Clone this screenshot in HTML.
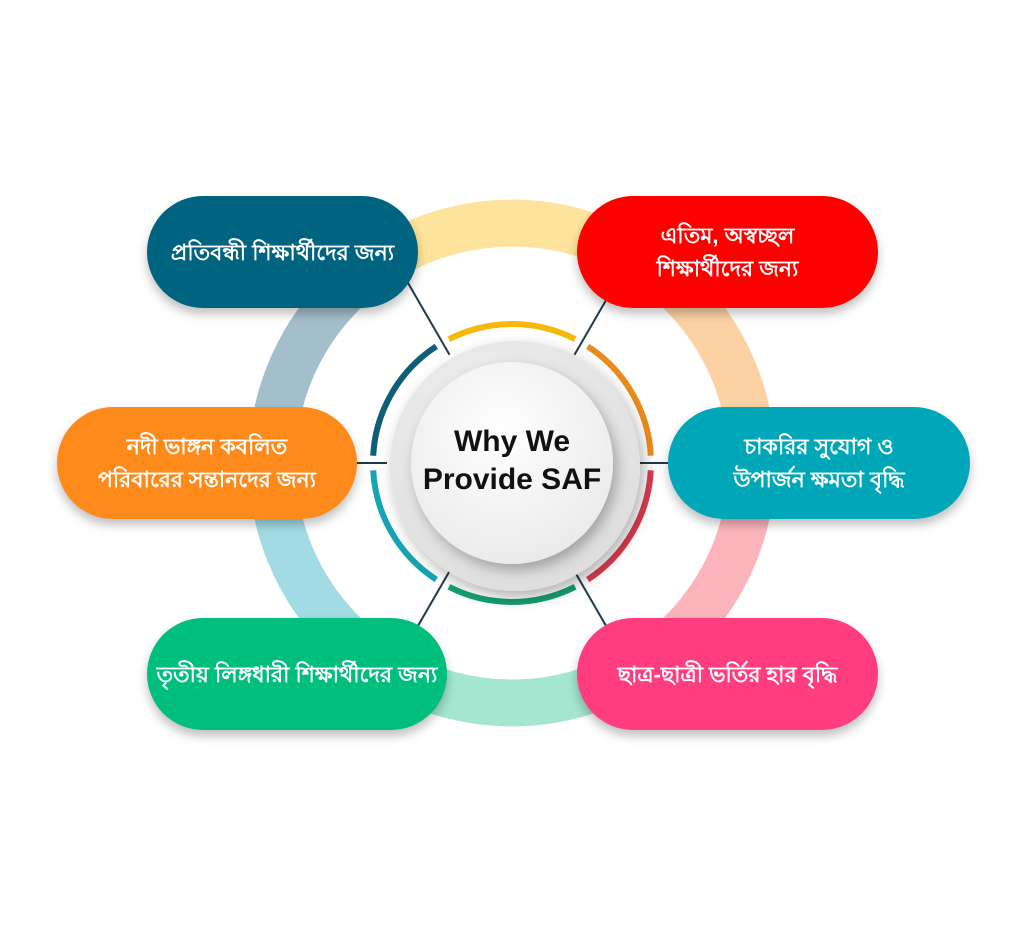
<!DOCTYPE html>
<html><head><meta charset="utf-8"><style>
html,body{margin:0;padding:0;background:#fff;}
.w{position:relative;width:1024px;height:928px;overflow:hidden;font-family:"Liberation Sans","Noto Sans CJK SC",sans-serif;}
.p{position:absolute;height:112px;border-radius:56px;color:#fff;font-size:22px;font-weight:bold;display:flex;align-items:center;justify-content:center;text-align:center;line-height:33px;box-shadow:0 6px 10px rgba(0,0,0,.25);}
.t{position:absolute;left:412px;top:423px;width:200px;text-align:center;font-size:30px;font-weight:bold;line-height:38px;color:#111;}
</style></head><body><div class="w">
<svg width="1024" height="928" style="position:absolute;left:0;top:0">
<defs>
<radialGradient id="g1" cx="45%" cy="40%" r="65%"><stop offset="0" stop-color="#fafafa"/><stop offset="1" stop-color="#dcdcdc"/></radialGradient>
<radialGradient id="g2" cx="45%" cy="35%" r="70%"><stop offset="0" stop-color="#ffffff"/><stop offset="1" stop-color="#e9e9ea"/></radialGradient>
<filter id="sh" x="-30%" y="-30%" width="160%" height="160%"><feDropShadow dx="4" dy="6" stdDeviation="7" flood-opacity=".3"/></filter>
</defs>
<g fill="none" stroke-width="47">
<path d="M752 463 A240 240 0 0 1 632 670.8" stroke="#fbb4bb"/>
<path d="M632 670.8 A240 240 0 0 1 392 670.8" stroke="#a4e6cf"/>
<path d="M392 670.8 A240 240 0 0 1 272 463" stroke="#a2dbe3"/>
<path d="M272 463 A240 240 0 0 1 392 255.2" stroke="#a3bfca"/>
<path d="M392 255.2 A240 240 0 0 1 632 255.2" stroke="#fde39b"/>
<path d="M632 255.2 A240 240 0 0 1 752 463" stroke="#fcd2a4"/>
</g>
<g stroke="#1e3a4a" stroke-width="2">
<line x1="637" y1="463" x2="700" y2="463"/><line x1="387" y1="463" x2="320" y2="463"/>
<line x1="574.5" y1="571.3" x2="620" y2="650"/><line x1="449.5" y1="571.3" x2="404" y2="650"/>
<line x1="449.5" y1="354.7" x2="404" y2="276"/><line x1="574.5" y1="354.7" x2="620" y2="276"/>
</g>
<g fill="none" stroke-width="6">
<path d="M650.8 470.3 A139 139 0 0 1 587.7 579.6" stroke="#d83b4e"/>
<path d="M575.1 586.8 A139 139 0 0 1 448.9 586.8" stroke="#14a06e"/>
<path d="M436.3 579.6 A139 139 0 0 1 373.2 470.3" stroke="#16a3b4"/>
<path d="M373.2 455.7 A139 139 0 0 1 436.3 346.4" stroke="#0e5e78"/>
<path d="M448.9 339.2 A139 139 0 0 1 575.1 339.2" stroke="#f6b90a"/>
<path d="M587.7 346.4 A139 139 0 0 1 650.8 455.7" stroke="#ec8a1c"/>
</g>
<circle cx="515" cy="466" r="125" fill="url(#g1)" filter="url(#sh)"/>
<circle cx="512" cy="463" r="101" fill="url(#g2)" filter="url(#sh)"/>
</svg>
<div class="t">Why We<br>Provide SAF</div>
<div class="p" style="left:147px;top:196px;width:271px;background:#006480">প্রতিবন্ধী শিক্ষার্থীদের জন্য</div>
<div class="p" style="left:577px;top:196px;width:301px;background:#fe0000">এতিম, অস্বচ্ছল<br>শিক্ষার্থীদের জন্য</div>
<div class="p" style="left:57px;top:407px;width:300px;background:#fe8a1c">নদী ভাঙ্গন কবলিত<br>পরিবারের সন্তানদের জন্য</div>
<div class="p" style="left:668px;top:407px;width:302px;background:#00a7b8">চাকরির সুযোগ ও<br>উপার্জন ক্ষমতা বৃদ্ধি</div>
<div class="p" style="left:147px;top:618px;width:300px;background:#00bf7e">তৃতীয় লিঙ্গধারী শিক্ষার্থীদের জন্য</div>
<div class="p" style="left:577px;top:618px;width:301px;background:#ff3d7f">ছাত্র-ছাত্রী ভর্তির হার বৃদ্ধি</div>
</div></body></html>
